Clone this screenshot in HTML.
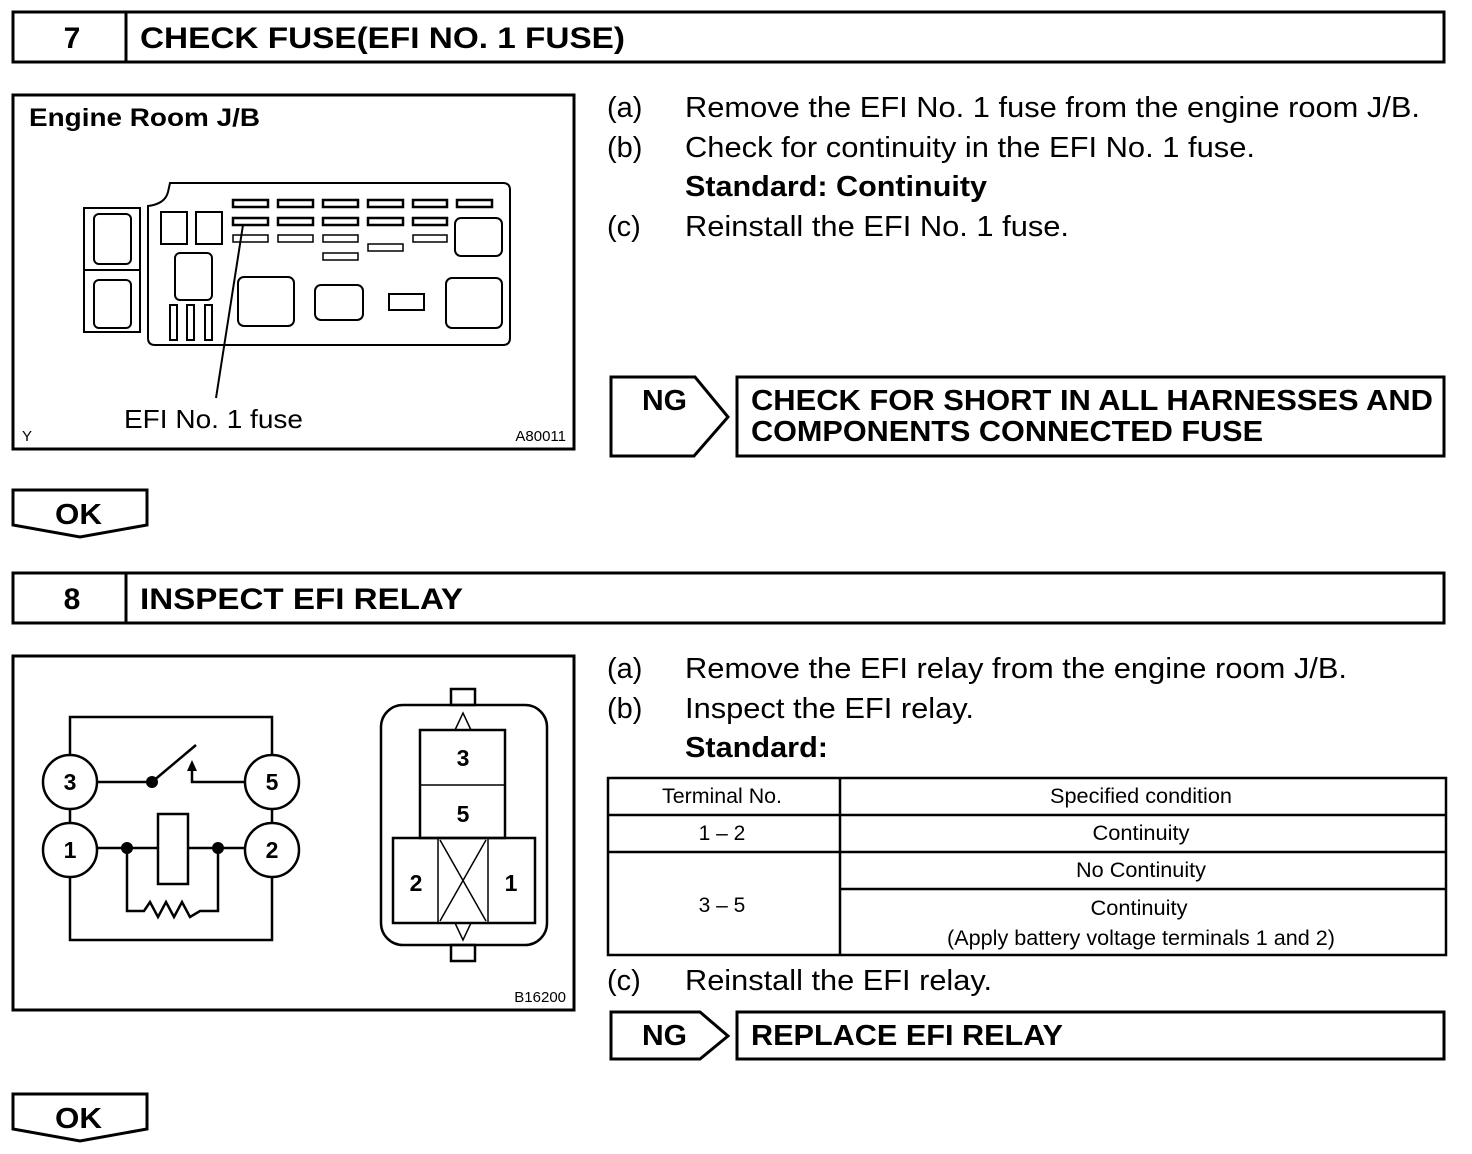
<!DOCTYPE html>
<html><head><meta charset="utf-8"><style>
html,body{margin:0;padding:0;background:#fff;}
svg{display:block;}
text{font-family:"Liberation Sans",Arial,sans-serif;fill:#000;}
.b{font-weight:bold;}
</style></head><body>
<svg width="1472" height="1154" viewBox="0 0 1472 1154" xmlns="http://www.w3.org/2000/svg">
<g fill="none" stroke="#000" stroke-width="3">
<rect x="13" y="12" width="1431" height="50"/>
<line x1="126" y1="12" x2="126" y2="62"/>
<rect x="13" y="573" width="1431" height="50"/>
<line x1="126" y1="573" x2="126" y2="623"/>
<rect x="13" y="95" width="561" height="354"/>
<rect x="13" y="656" width="561" height="354"/>
<path d="M611 377 H695 L728 417 L694 456 H611 Z"/>
<rect x="737" y="377" width="707" height="79"/>
<path d="M611 1012 H700 L728 1036 L700 1059 H611 Z"/>
<rect x="737" y="1012" width="707" height="47"/>
<path d="M13 490 H147 V525 L80 537 L13 525 Z"/>
<path d="M13 1094 H147 V1129 L80 1141 L13 1129 Z"/>
</g>
<text x="72" y="48" font-size="30" class="b" text-anchor="middle">7</text>
<text x="140" y="48" font-size="30" class="b" textLength="485" lengthAdjust="spacingAndGlyphs">CHECK FUSE(EFI NO. 1 FUSE)</text>
<text x="72" y="609" font-size="30" class="b" text-anchor="middle">8</text>
<text x="140" y="609" font-size="30" class="b" textLength="323" lengthAdjust="spacingAndGlyphs">INSPECT EFI RELAY</text>

<text x="29" y="126" font-size="25" class="b" textLength="231" lengthAdjust="spacingAndGlyphs">Engine Room J/B</text>
<g fill="none" stroke="#000" stroke-width="2">
<path d="M148 206 Q165 204 168 192 L170 183 H503 Q510 183 510 190 V338 Q510 345 503 345 H155 Q148 345 148 338 Z"/>
<rect x="84" y="208" width="56" height="124"/>
<line x1="84" y1="270" x2="140" y2="270"/>
<rect x="94" y="214" width="37" height="50" rx="5"/>
<rect x="94" y="280" width="37" height="48" rx="5"/>
<rect x="161" y="212" width="26" height="32"/>
<rect x="196" y="212" width="26" height="32"/>
<rect x="175" y="253" width="37" height="47" rx="5"/>
<rect x="170" y="305" width="7" height="35"/>
<rect x="187" y="305" width="7" height="35"/>
<rect x="205" y="305" width="7" height="35"/>
<rect x="238" y="277" width="56" height="49" rx="6"/>
<rect x="315" y="285" width="48" height="35" rx="6"/>
<rect x="389" y="294" width="35" height="16"/>
<rect x="446" y="278" width="56" height="50" rx="6"/>
<rect x="455" y="218" width="47" height="38" rx="6"/>
<g stroke-width="2.5">
<rect x="233" y="200" width="35" height="7"/><rect x="278" y="200" width="35" height="7"/><rect x="323" y="200" width="35" height="7"/><rect x="368" y="200" width="35" height="7"/><rect x="413" y="200" width="34" height="7"/><rect x="457" y="200" width="35" height="7"/>
<rect x="233" y="218" width="35" height="7"/><rect x="278" y="218" width="35" height="7"/><rect x="323" y="218" width="35" height="7"/><rect x="368" y="218" width="35" height="7"/><rect x="413" y="218" width="34" height="7"/>
</g>
<g stroke-width="1.5">
<rect x="233" y="235" width="35" height="7"/><rect x="278" y="235" width="35" height="7"/><rect x="323" y="235" width="35" height="7"/><rect x="413" y="235" width="34" height="7"/>
<rect x="368" y="244" width="35" height="7"/><rect x="323" y="253" width="35" height="7"/>
</g>
<line x1="243" y1="225" x2="216" y2="398"/>
</g>
<text x="124" y="428" font-size="26" textLength="179" lengthAdjust="spacingAndGlyphs">EFI No. 1 fuse</text>
<text x="22" y="441" font-size="15">Y</text>
<text x="566" y="441" font-size="15" text-anchor="end">A80011</text>

<g fill="none" stroke="#000" stroke-width="2.5">
<polyline points="70,755 70,717 272,717 272,755"/>
<polyline points="70,877 70,940 272,940 272,877"/>
<line x1="70" y1="809" x2="70" y2="823"/>
<line x1="272" y1="809" x2="272" y2="823"/>
<line x1="97" y1="782" x2="152" y2="782"/>
<line x1="152" y1="782" x2="196" y2="745"/>
<polyline points="245,782 192,782 192,765"/>
<line x1="97" y1="848" x2="158" y2="848"/>
<line x1="188" y1="848" x2="245" y2="848"/>
<rect x="158" y="814" width="30" height="70"/>
<polyline points="127,848 127,911 144,911 150,902 158,917 166,902 174,917 182,902 190,917 200,911 218,911 218,848"/>
<circle cx="70" cy="782" r="27" fill="#fff"/>
<circle cx="272" cy="782" r="27" fill="#fff"/>
<circle cx="70" cy="850" r="27" fill="#fff"/>
<circle cx="272" cy="850" r="27" fill="#fff"/>
<rect x="381" y="705" width="166" height="240" rx="22"/>
<rect x="451" y="689" width="24" height="16"/>
<rect x="451" y="945" width="24" height="16"/>
<rect x="420" y="730" width="85" height="108"/>
<line x1="420" y1="785" x2="505" y2="785" stroke-width="1.5"/>
<rect x="393" y="838" width="142" height="85"/>
<line x1="438" y1="838" x2="438" y2="923" stroke-width="1.5"/>
<line x1="488" y1="838" x2="488" y2="923" stroke-width="1.5"/>
<line x1="440" y1="840" x2="486" y2="921" stroke-width="1.5"/>
<line x1="486" y1="840" x2="440" y2="921" stroke-width="1.5"/>
<polyline points="455,730 463,713 471,730" stroke-width="1.5"/>
<polyline points="455,923 463,940 471,923" stroke-width="1.5"/>
</g>
<path d="M187 771 L192 760 L197 771 Z" fill="#000"/>
<circle cx="152" cy="782" r="6" fill="#000"/>
<circle cx="127" cy="848" r="6" fill="#000"/>
<circle cx="218" cy="848" r="6" fill="#000"/>
<g font-size="23" class="b" text-anchor="middle">
<text x="70" y="790">3</text><text x="272" y="790">5</text>
<text x="70" y="858">1</text><text x="272" y="858">2</text>
<text x="463" y="766">3</text><text x="463" y="822">5</text>
<text x="416" y="891">2</text><text x="511" y="891">1</text>
</g>
<text x="566" y="1002" font-size="15" text-anchor="end">B16200</text>

<g font-size="29">
<text x="607" y="117">(a)</text><text x="685" y="117" textLength="735" lengthAdjust="spacingAndGlyphs">Remove the EFI No. 1 fuse from the engine room J/B.</text>
<text x="607" y="157">(b)</text><text x="685" y="157" textLength="570" lengthAdjust="spacingAndGlyphs">Check for continuity in the EFI No. 1 fuse.</text>
<text x="685" y="196" class="b" textLength="302" lengthAdjust="spacingAndGlyphs">Standard: Continuity</text>
<text x="607" y="236">(c)</text><text x="685" y="236" textLength="384" lengthAdjust="spacingAndGlyphs">Reinstall the EFI No. 1 fuse.</text>
</g>
<text x="642" y="410" font-size="29" class="b" textLength="45" lengthAdjust="spacingAndGlyphs">NG</text>
<text x="751" y="410" font-size="29" class="b" textLength="682" lengthAdjust="spacingAndGlyphs">CHECK FOR SHORT IN ALL HARNESSES AND</text>
<text x="751" y="441" font-size="29" class="b" textLength="512" lengthAdjust="spacingAndGlyphs">COMPONENTS CONNECTED FUSE</text>
<text x="55" y="524" font-size="29" class="b" textLength="47" lengthAdjust="spacingAndGlyphs">OK</text>

<g font-size="29">
<text x="607" y="678">(a)</text><text x="685" y="678" textLength="662" lengthAdjust="spacingAndGlyphs">Remove the EFI relay from the engine room J/B.</text>
<text x="607" y="718">(b)</text><text x="685" y="718" textLength="289" lengthAdjust="spacingAndGlyphs">Inspect the EFI relay.</text>
<text x="685" y="757" class="b" textLength="143" lengthAdjust="spacingAndGlyphs">Standard:</text>
<text x="607" y="990">(c)</text><text x="685" y="990" textLength="307" lengthAdjust="spacingAndGlyphs">Reinstall the EFI relay.</text>
</g>
<g fill="none" stroke="#000" stroke-width="2.5">
<rect x="608" y="778" width="838" height="177"/>
<line x1="608" y1="815" x2="1446" y2="815"/>
<line x1="608" y1="852" x2="1446" y2="852"/>
<line x1="840" y1="889" x2="1446" y2="889"/>
<line x1="840" y1="778" x2="840" y2="955"/>
</g>
<g font-size="21" text-anchor="middle">
<text x="722" y="803" textLength="120" lengthAdjust="spacingAndGlyphs">Terminal No.</text>
<text x="1141" y="803" textLength="182" lengthAdjust="spacingAndGlyphs">Specified condition</text>
<text x="722" y="840">1 – 2</text>
<text x="1141" y="840" textLength="97" lengthAdjust="spacingAndGlyphs">Continuity</text>
<text x="1141" y="877" textLength="130" lengthAdjust="spacingAndGlyphs">No Continuity</text>
<text x="722" y="912">3 – 5</text>
<text x="1139" y="915" textLength="97" lengthAdjust="spacingAndGlyphs">Continuity</text>
<text x="1141" y="945" textLength="388" lengthAdjust="spacingAndGlyphs">(Apply battery voltage terminals 1 and 2)</text>
</g>
<text x="642" y="1045" font-size="29" class="b" textLength="45" lengthAdjust="spacingAndGlyphs">NG</text>
<text x="751" y="1045" font-size="29" class="b" textLength="312" lengthAdjust="spacingAndGlyphs">REPLACE EFI RELAY</text>
<text x="55" y="1128" font-size="29" class="b" textLength="47" lengthAdjust="spacingAndGlyphs">OK</text>
</svg>
</body></html>
